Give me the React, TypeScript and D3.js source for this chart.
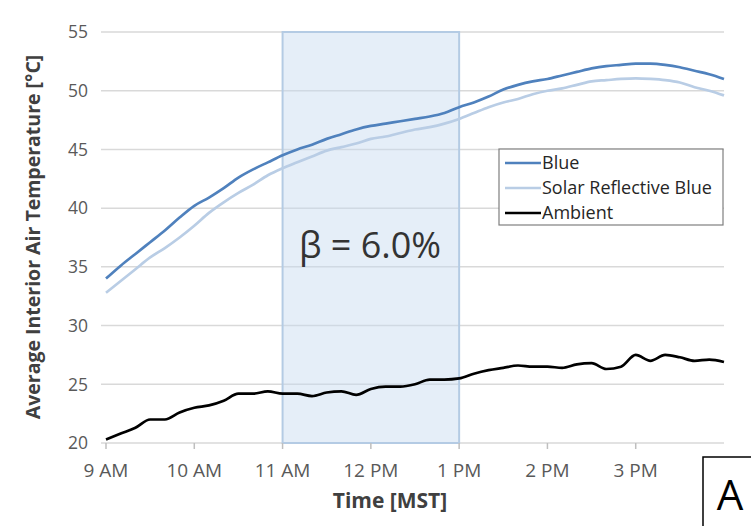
import React from 'react';
import * as d3 from 'd3';

// minutes after 9:00
const minutes = [0, 10, 20, 30, 40, 50, 60, 70, 80, 90, 100, 110, 120, 130, 140, 150, 160, 170, 180, 190, 200, 210, 220, 230, 240, 250, 260, 270, 280, 290, 300, 310, 320, 330, 340, 350, 360, 370, 380, 390, 400, 410, 420];

const blue = [34.0, 35.1, 36.1, 37.1, 38.1, 39.2, 40.2, 40.9, 41.7, 42.6, 43.3, 43.9, 44.5, 45.0, 45.4, 45.9, 46.3, 46.7, 47.0, 47.2, 47.4, 47.6, 47.8, 48.1, 48.6, 49.0, 49.5, 50.1, 50.5, 50.8, 51.0, 51.3, 51.6, 51.9, 52.1, 52.2, 52.3, 52.3, 52.2, 52.0, 51.7, 51.4, 51.0];
const solarBlue = [32.8, 33.8, 34.8, 35.8, 36.6, 37.5, 38.5, 39.6, 40.5, 41.3, 42.0, 42.8, 43.4, 43.9, 44.4, 44.9, 45.2, 45.5, 45.9, 46.1, 46.4, 46.7, 46.9, 47.2, 47.6, 48.1, 48.6, 49.0, 49.3, 49.7, 50.0, 50.2, 50.5, 50.8, 50.9, 51.0, 51.05, 51.0, 50.9, 50.7, 50.3, 50.0, 49.6];
const ambient = [20.3, 20.8, 21.3, 22.0, 22.0, 22.6, 23.0, 23.2, 23.6, 24.2, 24.2, 24.4, 24.2, 24.2, 24.0, 24.3, 24.4, 24.1, 24.6, 24.8, 24.8, 25.0, 25.4, 25.4, 25.5, 25.9, 26.2, 26.4, 26.6, 26.5, 26.5, 26.4, 26.7, 26.8, 26.3, 26.5, 27.5, 27.0, 27.5, 27.3, 27.0, 27.1, 26.9];

const hourTicks = [0, 60, 120, 180, 240, 300, 360];
const hourLabels = ['9 AM', '10 AM', '11 AM', '12 PM', '1 PM', '2 PM', '3 PM'];
const yTicks = [20, 25, 30, 35, 40, 45, 50, 55];
const highlight = [120, 240];

const seriesNames = ['Blue', 'Solar Reflective Blue', 'Ambient'];
const seriesColors = ['#4f81bd', '#b9cde5', '#000000'];

const W = 751;
const H = 526;
const font = '"Open Sans", "Noto Sans", sans-serif';

const App = () => {
  const x = d3.scaleLinear().domain([0, 420]).range([106, 724]);
  const y = d3.scaleLinear().domain([20, 55]).range([443, 32]);

  const series = [blue, solarBlue, ambient];
  const line = d3.line<number>()
    .x((_, i) => x(minutes[i]))
    .y(d => y(d))
    .curve(d3.curveMonotoneX);

  return (
    <svg width={W} height={H} style={{ position: 'absolute', left: 0, top: 0, background: '#fff' }} fontFamily={font}>
      {yTicks.map(t => (
        <line key={t} x1={101} x2={724} y1={y(t)} y2={y(t)} stroke="#d9d9d9" strokeWidth={1.5} />
      ))}
      <rect
        x={x(highlight[0])}
        y={y(55)}
        width={x(highlight[1]) - x(highlight[0])}
        height={y(20) - y(55)}
        fill="#c6d9f0"
        fillOpacity={0.45}
        stroke="#b4cbe4"
        strokeWidth={2}
      />
      {hourTicks.map(t => (
        <line key={t} x1={x(t)} x2={x(t)} y1={443} y2={449} stroke="#bfbfbf" strokeWidth={1.5} />
      ))}
      {yTicks.map(t => (
        <text key={t} x={88} y={y(t)} dy="0.36em" textAnchor="end" fontSize={17.5} fill="#595959">{t}</text>
      ))}
      {hourTicks.map((t, i) => (
        <text key={t} x={x(t)} y={477} textAnchor="middle" fontSize={19} fill="#595959">{hourLabels[i]}</text>
      ))}
      <text x={370} y={258} textAnchor="middle" fontSize={36} fill="#333">β = 6.0%</text>
      {series.map((s, i) => (
        <path key={i} d={line(s) ?? ''} fill="none" stroke={seriesColors[i]} strokeWidth={2.7} strokeLinejoin="round" />
      ))}
      <g transform="translate(499,149)">
        <rect width={224} height={76} fill="#fff" stroke="#7f7f7f" strokeWidth={1.2} />
        {seriesNames.map((n, i) => (
          <g key={n} transform={`translate(0,${14 + i * 25})`}>
            <line x1={6} x2={42} y1={0} y2={0} stroke={seriesColors[i]} strokeWidth={2.7} />
            <text x={43} y={0} dy="0.36em" fontSize={18} fill="#262626">{n}</text>
          </g>
        ))}
      </g>
      <text
        transform="translate(40,237) rotate(-90)"
        textAnchor="middle"
        fontSize={19.5}
        fontWeight="bold"
        fill="#404040"
      >
        Average Interior Air Temperature [°C]
      </text>
      <text x={390} y={508} textAnchor="middle" fontSize={21} fontWeight="bold" fill="#404040">Time [MST]</text>
      <rect x={703} y={457} width={60} height={80} fill="#fff" stroke="#000" strokeWidth={1.5} />
      <text x={730} y={510} textAnchor="middle" fontSize={42} fill="#000">A</text>
    </svg>
  );
};

export default App;
